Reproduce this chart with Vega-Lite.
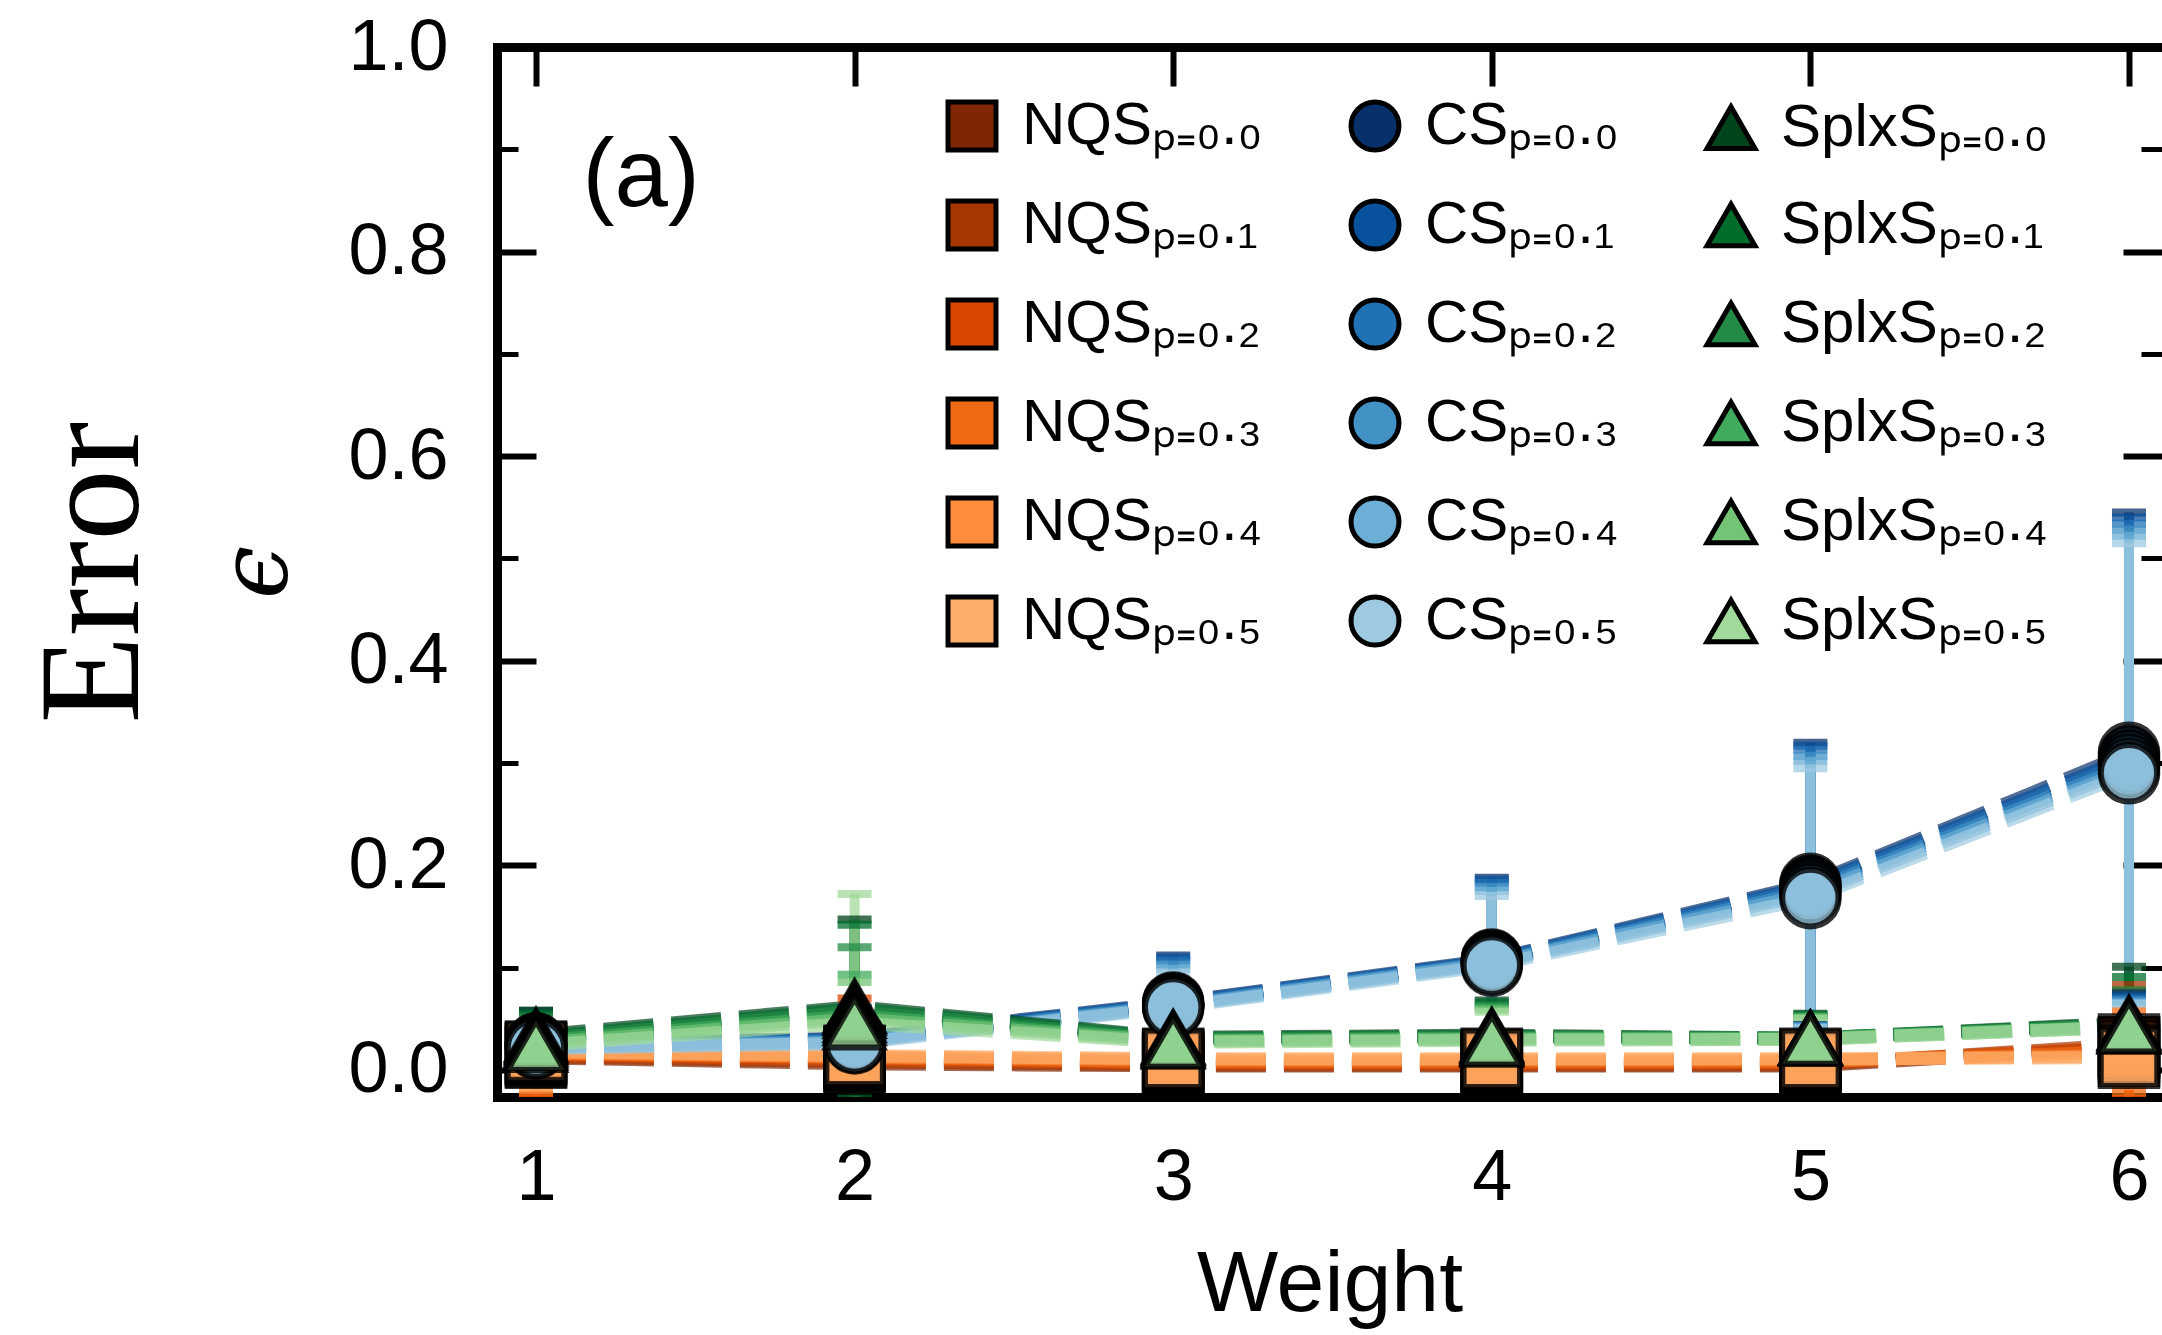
{
 "$schema": "https://vega.github.io/schema/vega-lite/v6.json",
 "width": 1665, "height": 1050,
 "autosize": {"type": "none"},
 "padding": {"left": 497, "top": 47, "right": 0, "bottom": 238},
 "background": "white",
 "config": {
  "view": {"stroke": null},
  "axis": {"grid": false, "domainColor": "black", "domainWidth": 9, "domainCap": "square", "tickColor": "black", "tickWidth": 6, "labelColor": "black", "labelFont": "Liberation Sans", "labelFontSize": 72, "titleColor": "black", "labelFlush": false, "labelOverlap": false}
 },
 "datasets": {"d": [
  {"s":"NQSₚ₌₀.₀","w":1,"v":0.012,"lo":-0.028,"hi":0.052},
  {"s":"NQSₚ₌₀.₀","w":2,"v":0.006,"lo":-0.014,"hi":0.026},
  {"s":"NQSₚ₌₀.₀","w":3,"v":0.004,"lo":-0.006,"hi":0.014},
  {"s":"NQSₚ₌₀.₀","w":4,"v":0.004,"lo":-0.006,"hi":0.014},
  {"s":"NQSₚ₌₀.₀","w":5,"v":0.004,"lo":-0.006,"hi":0.014},
  {"s":"NQSₚ₌₀.₀","w":6,"v":0.022,"lo":-0.033,"hi":0.077},
  {"s":"NQSₚ₌₀.₁","w":1,"v":0.013,"lo":-0.029,"hi":0.055},
  {"s":"NQSₚ₌₀.₁","w":2,"v":0.008,"lo":-0.014,"hi":0.030},
  {"s":"NQSₚ₌₀.₁","w":3,"v":0.005,"lo":-0.005,"hi":0.015},
  {"s":"NQSₚ₌₀.₁","w":4,"v":0.005,"lo":-0.005,"hi":0.015},
  {"s":"NQSₚ₌₀.₁","w":5,"v":0.005,"lo":-0.005,"hi":0.015},
  {"s":"NQSₚ₌₀.₁","w":6,"v":0.025,"lo":-0.033,"hi":0.083},
  {"s":"NQSₚ₌₀.₂","w":1,"v":0.015,"lo":-0.025,"hi":0.055},
  {"s":"NQSₚ₌₀.₂","w":2,"v":0.010,"lo":-0.050,"hi":0.070},
  {"s":"NQSₚ₌₀.₂","w":3,"v":0.007,"lo":-0.005,"hi":0.019},
  {"s":"NQSₚ₌₀.₂","w":4,"v":0.006,"lo":-0.006,"hi":0.018},
  {"s":"NQSₚ₌₀.₂","w":5,"v":0.007,"lo":-0.005,"hi":0.019},
  {"s":"NQSₚ₌₀.₂","w":6,"v":0.022,"lo":-0.028,"hi":0.072},
  {"s":"NQSₚ₌₀.₃","w":1,"v":0.016,"lo":-0.022,"hi":0.054},
  {"s":"NQSₚ₌₀.₃","w":2,"v":0.012,"lo":-0.018,"hi":0.042},
  {"s":"NQSₚ₌₀.₃","w":3,"v":0.008,"lo":-0.004,"hi":0.020},
  {"s":"NQSₚ₌₀.₃","w":4,"v":0.008,"lo":-0.004,"hi":0.020},
  {"s":"NQSₚ₌₀.₃","w":5,"v":0.008,"lo":-0.004,"hi":0.020},
  {"s":"NQSₚ₌₀.₃","w":6,"v":0.018,"lo":-0.022,"hi":0.058},
  {"s":"NQSₚ₌₀.₄","w":1,"v":0.017,"lo":-0.019,"hi":0.053},
  {"s":"NQSₚ₌₀.₄","w":2,"v":0.013,"lo":-0.012,"hi":0.038},
  {"s":"NQSₚ₌₀.₄","w":3,"v":0.010,"lo":-0.002,"hi":0.022},
  {"s":"NQSₚ₌₀.₄","w":4,"v":0.010,"lo":-0.002,"hi":0.022},
  {"s":"NQSₚ₌₀.₄","w":5,"v":0.010,"lo":-0.002,"hi":0.022},
  {"s":"NQSₚ₌₀.₄","w":6,"v":0.014,"lo":-0.016,"hi":0.044},
  {"s":"NQSₚ₌₀.₅","w":1,"v":0.018,"lo":-0.017,"hi":0.053},
  {"s":"NQSₚ₌₀.₅","w":2,"v":0.014,"lo":-0.006,"hi":0.034},
  {"s":"NQSₚ₌₀.₅","w":3,"v":0.011,"lo":0.001,"hi":0.021},
  {"s":"NQSₚ₌₀.₅","w":4,"v":0.011,"lo":0.001,"hi":0.021},
  {"s":"NQSₚ₌₀.₅","w":5,"v":0.011,"lo":0.001,"hi":0.021},
  {"s":"NQSₚ₌₀.₅","w":6,"v":0.012,"lo":-0.013,"hi":0.037},
  {"s":"CSₚ₌₀.₀","w":1,"v":0.026,"lo":-0.006,"hi":0.058},
  {"s":"CSₚ₌₀.₀","w":2,"v":0.031,"lo":0.001,"hi":0.061},
  {"s":"CSₚ₌₀.₀","w":3,"v":0.066,"lo":0.020,"hi":0.112},
  {"s":"CSₚ₌₀.₀","w":4,"v":0.108,"lo":0.028,"hi":0.188},
  {"s":"CSₚ₌₀.₀","w":5,"v":0.182,"lo":0.044,"hi":0.320},
  {"s":"CSₚ₌₀.₀","w":6,"v":0.310,"lo":0.075,"hi":0.545},
  {"s":"CSₚ₌₀.₁","w":1,"v":0.025,"lo":-0.006,"hi":0.056},
  {"s":"CSₚ₌₀.₁","w":2,"v":0.030,"lo":0.001,"hi":0.059},
  {"s":"CSₚ₌₀.₁","w":3,"v":0.065,"lo":0.020,"hi":0.110},
  {"s":"CSₚ₌₀.₁","w":4,"v":0.107,"lo":0.028,"hi":0.186},
  {"s":"CSₚ₌₀.₁","w":5,"v":0.180,"lo":0.043,"hi":0.317},
  {"s":"CSₚ₌₀.₁","w":6,"v":0.306,"lo":0.072,"hi":0.540},
  {"s":"CSₚ₌₀.₂","w":1,"v":0.024,"lo":-0.006,"hi":0.054},
  {"s":"CSₚ₌₀.₂","w":2,"v":0.029,"lo":0.001,"hi":0.057},
  {"s":"CSₚ₌₀.₂","w":3,"v":0.064,"lo":0.021,"hi":0.107},
  {"s":"CSₚ₌₀.₂","w":4,"v":0.106,"lo":0.029,"hi":0.183},
  {"s":"CSₚ₌₀.₂","w":5,"v":0.178,"lo":0.043,"hi":0.313},
  {"s":"CSₚ₌₀.₂","w":6,"v":0.302,"lo":0.070,"hi":0.534},
  {"s":"CSₚ₌₀.₃","w":1,"v":0.023,"lo":-0.006,"hi":0.052},
  {"s":"CSₚ₌₀.₃","w":2,"v":0.028,"lo":0.001,"hi":0.055},
  {"s":"CSₚ₌₀.₃","w":3,"v":0.063,"lo":0.023,"hi":0.103},
  {"s":"CSₚ₌₀.₃","w":4,"v":0.105,"lo":0.031,"hi":0.179},
  {"s":"CSₚ₌₀.₃","w":5,"v":0.175,"lo":0.043,"hi":0.307},
  {"s":"CSₚ₌₀.₃","w":6,"v":0.298,"lo":0.068,"hi":0.528},
  {"s":"CSₚ₌₀.₄","w":1,"v":0.022,"lo":-0.006,"hi":0.050},
  {"s":"CSₚ₌₀.₄","w":2,"v":0.027,"lo":0.001,"hi":0.053},
  {"s":"CSₚ₌₀.₄","w":3,"v":0.062,"lo":0.025,"hi":0.099},
  {"s":"CSₚ₌₀.₄","w":4,"v":0.104,"lo":0.033,"hi":0.175},
  {"s":"CSₚ₌₀.₄","w":5,"v":0.172,"lo":0.042,"hi":0.302},
  {"s":"CSₚ₌₀.₄","w":6,"v":0.294,"lo":0.066,"hi":0.522},
  {"s":"CSₚ₌₀.₅","w":1,"v":0.021,"lo":-0.006,"hi":0.048},
  {"s":"CSₚ₌₀.₅","w":2,"v":0.026,"lo":0.001,"hi":0.051},
  {"s":"CSₚ₌₀.₅","w":3,"v":0.061,"lo":0.027,"hi":0.095},
  {"s":"CSₚ₌₀.₅","w":4,"v":0.102,"lo":0.034,"hi":0.170},
  {"s":"CSₚ₌₀.₅","w":5,"v":0.168,"lo":0.041,"hi":0.295},
  {"s":"CSₚ₌₀.₅","w":6,"v":0.290,"lo":0.065,"hi":0.515},
  {"s":"SplxSₚ₌₀.₀","w":1,"v":0.034,"lo":0.010,"hi":0.058},
  {"s":"SplxSₚ₌₀.₀","w":2,"v":0.062,"lo":-0.023,"hi":0.147},
  {"s":"SplxSₚ₌₀.₀","w":3,"v":0.032,"lo":0.010,"hi":0.054},
  {"s":"SplxSₚ₌₀.₀","w":4,"v":0.034,"lo":0.000,"hi":0.068},
  {"s":"SplxSₚ₌₀.₀","w":5,"v":0.031,"lo":0.007,"hi":0.055},
  {"s":"SplxSₚ₌₀.₀","w":6,"v":0.046,"lo":-0.009,"hi":0.101},
  {"s":"SplxSₚ₌₀.₁","w":1,"v":0.032,"lo":0.009,"hi":0.055},
  {"s":"SplxSₚ₌₀.₁","w":2,"v":0.060,"lo":-0.022,"hi":0.142},
  {"s":"SplxSₚ₌₀.₁","w":3,"v":0.031,"lo":0.011,"hi":0.051},
  {"s":"SplxSₚ₌₀.₁","w":4,"v":0.033,"lo":0.000,"hi":0.066},
  {"s":"SplxSₚ₌₀.₁","w":5,"v":0.031,"lo":0.008,"hi":0.054},
  {"s":"SplxSₚ₌₀.₁","w":6,"v":0.045,"lo":-0.001,"hi":0.091},
  {"s":"SplxSₚ₌₀.₂","w":1,"v":0.030,"lo":0.008,"hi":0.052},
  {"s":"SplxSₚ₌₀.₂","w":2,"v":0.057,"lo":-0.006,"hi":0.120},
  {"s":"SplxSₚ₌₀.₂","w":3,"v":0.030,"lo":0.012,"hi":0.048},
  {"s":"SplxSₚ₌₀.₂","w":4,"v":0.032,"lo":0.001,"hi":0.063},
  {"s":"SplxSₚ₌₀.₂","w":5,"v":0.031,"lo":0.009,"hi":0.053},
  {"s":"SplxSₚ₌₀.₂","w":6,"v":0.044,"lo":0.010,"hi":0.078},
  {"s":"SplxSₚ₌₀.₃","w":1,"v":0.028,"lo":0.007,"hi":0.049},
  {"s":"SplxSₚ₌₀.₃","w":2,"v":0.053,"lo":0.013,"hi":0.093},
  {"s":"SplxSₚ₌₀.₃","w":3,"v":0.029,"lo":0.012,"hi":0.046},
  {"s":"SplxSₚ₌₀.₃","w":4,"v":0.031,"lo":0.001,"hi":0.061},
  {"s":"SplxSₚ₌₀.₃","w":5,"v":0.031,"lo":0.010,"hi":0.052},
  {"s":"SplxSₚ₌₀.₃","w":6,"v":0.043,"lo":0.015,"hi":0.071},
  {"s":"SplxSₚ₌₀.₄","w":1,"v":0.026,"lo":0.006,"hi":0.046},
  {"s":"SplxSₚ₌₀.₄","w":2,"v":0.050,"lo":0.014,"hi":0.086},
  {"s":"SplxSₚ₌₀.₄","w":3,"v":0.028,"lo":0.012,"hi":0.044},
  {"s":"SplxSₚ₌₀.₄","w":4,"v":0.030,"lo":0.001,"hi":0.059},
  {"s":"SplxSₚ₌₀.₄","w":5,"v":0.030,"lo":0.009,"hi":0.051},
  {"s":"SplxSₚ₌₀.₄","w":6,"v":0.042,"lo":0.016,"hi":0.068},
  {"s":"SplxSₚ₌₀.₅","w":1,"v":0.024,"lo":0.004,"hi":0.044},
  {"s":"SplxSₚ₌₀.₅","w":2,"v":0.046,"lo":-0.080,"hi":0.172},
  {"s":"SplxSₚ₌₀.₅","w":3,"v":0.027,"lo":0.012,"hi":0.042},
  {"s":"SplxSₚ₌₀.₅","w":4,"v":0.029,"lo":0.001,"hi":0.057},
  {"s":"SplxSₚ₌₀.₅","w":5,"v":0.030,"lo":0.010,"hi":0.050},
  {"s":"SplxSₚ₌₀.₅","w":6,"v":0.042,"lo":0.018,"hi":0.066}
 ]},
 "data": {"name": "d"},
 "resolve": {"axis": {"x": "independent", "y": "independent"}},
 "layer": [
  {
   "mark": {"type": "line", "strokeDash": [50, 18], "strokeWidth": 13, "opacity": 0.7, "strokeCap": "butt"},
   "encoding": {
    "x": {"field": "w", "type": "quantitative", "scale": {"domain": [0.8776, 6.1036], "nice": false, "zero": false},
          "axis": {"orient": "bottom", "values": [1,2,3,4,5,6], "format": "d", "tickSize": -39, "labelPadding": 84, "labelBaseline": "top", "title": "Weight", "titleFont": "Liberation Sans", "titleFontSize": 86, "titleFontWeight": "normal", "titlePadding": 29}},
    "y": {"field": "v", "type": "quantitative", "scale": {"domain": [-0.0264, 1.0], "nice": false, "zero": false},
          "axis": {"orient": "left", "values": [0, 0.2, 0.4, 0.6, 0.8, 1.0], "format": ".1f", "tickSize": -39, "labelPadding": 88, "title": "Error", "titleFont": "Liberation Serif", "titleFontSize": 143, "titleFontWeight": "normal", "titlePadding": 180}},
    "stroke": {"field": "s", "type": "nominal", "legend": null,
              "scale": {"domain": ["NQSₚ₌₀.₀","NQSₚ₌₀.₁","NQSₚ₌₀.₂","NQSₚ₌₀.₃","NQSₚ₌₀.₄","NQSₚ₌₀.₅","CSₚ₌₀.₀","CSₚ₌₀.₁","CSₚ₌₀.₂","CSₚ₌₀.₃","CSₚ₌₀.₄","CSₚ₌₀.₅","SplxSₚ₌₀.₀","SplxSₚ₌₀.₁","SplxSₚ₌₀.₂","SplxSₚ₌₀.₃","SplxSₚ₌₀.₄","SplxSₚ₌₀.₅"],
                        "range": ["#7f2704","#a63603","#d94801","#f16913","#fd8d3c","#fdae6b","#08306b","#08519c","#2171b5","#4292c6","#6baed6","#9ecae1","#00441b","#006d2c","#238b45","#41ab5d","#74c476","#a1d99b"]}},
    "detail": {"field": "s"}
   }
  },
  {
   "mark": {"type": "rule", "strokeWidth": 10, "opacity": 0.75, "clip": true},
   "encoding": {
    "x": {"field": "w", "type": "quantitative", "scale": {"domain": [0.8776, 6.1036], "nice": false, "zero": false},
          "axis": {"orient": "top", "values": [1,2,3,4,5,6], "tickSize": -39, "labels": false, "title": null}},
    "y": {"field": "lo", "type": "quantitative", "scale": {"domain": [-0.0264, 1.0], "nice": false, "zero": false},
          "axis": {"orient": "left", "values": [0.1, 0.3, 0.5, 0.7, 0.9], "tickSize": -21, "tickWidth": 5, "labels": false, "domain": false, "title": "ϵ", "titleFont": "DejaVu Serif", "titleFontStyle": "italic", "titleFontSize": 95, "titleFontWeight": "normal", "titlePadding": 188}},
    "y2": {"field": "hi"},
    "stroke": {"field": "s", "type": "nominal", "legend": null}
   }
  },
  {
   "mark": {"type": "tick", "orient": "horizontal", "size": 34, "thickness": 8, "opacity": 0.75, "clip": true},
   "encoding": {
    "x": {"field": "w", "type": "quantitative", "axis": null},
    "y": {"field": "hi", "type": "quantitative",
          "axis": {"orient": "right", "values": [0, 0.2, 0.4, 0.6, 0.8, 1.0], "tickSize": -39, "labels": false, "domain": false, "title": null}},
    "fill": {"field": "s", "type": "nominal", "legend": null,
             "scale": {"domain": ["NQSₚ₌₀.₀","NQSₚ₌₀.₁","NQSₚ₌₀.₂","NQSₚ₌₀.₃","NQSₚ₌₀.₄","NQSₚ₌₀.₅","CSₚ₌₀.₀","CSₚ₌₀.₁","CSₚ₌₀.₂","CSₚ₌₀.₃","CSₚ₌₀.₄","CSₚ₌₀.₅","SplxSₚ₌₀.₀","SplxSₚ₌₀.₁","SplxSₚ₌₀.₂","SplxSₚ₌₀.₃","SplxSₚ₌₀.₄","SplxSₚ₌₀.₅"],
                       "range": ["#7f2704","#a63603","#d94801","#f16913","#fd8d3c","#fdae6b","#08306b","#08519c","#2171b5","#4292c6","#6baed6","#9ecae1","#00441b","#006d2c","#238b45","#41ab5d","#74c476","#a1d99b"]}}
   }
  },
  {
   "mark": {"type": "tick", "orient": "horizontal", "size": 34, "thickness": 8, "opacity": 0.75, "clip": true},
   "encoding": {
    "x": {"field": "w", "type": "quantitative", "axis": null},
    "y": {"field": "lo", "type": "quantitative",
          "axis": {"orient": "right", "values": [0.1, 0.3, 0.5, 0.7, 0.9], "tickSize": -21, "tickWidth": 5, "labels": false, "domain": false, "title": null}},
    "fill": {"field": "s", "type": "nominal", "legend": null}
   }
  },
  {
   "mark": {"type": "point", "filled": true, "size": 3200, "stroke": "black", "strokeWidth": 6, "strokeOpacity": 0.8, "fillOpacity": 0.72, "opacity": 1},
   "encoding": {
    "x": {"field": "w", "type": "quantitative", "axis": null},
    "y": {"field": "v", "type": "quantitative", "axis": null},
    "color": {"field": "s", "type": "nominal",
              "scale": {"domain": ["NQSₚ₌₀.₀","CSₚ₌₀.₀","SplxSₚ₌₀.₀","NQSₚ₌₀.₁","CSₚ₌₀.₁","SplxSₚ₌₀.₁","NQSₚ₌₀.₂","CSₚ₌₀.₂","SplxSₚ₌₀.₂","NQSₚ₌₀.₃","CSₚ₌₀.₃","SplxSₚ₌₀.₃","NQSₚ₌₀.₄","CSₚ₌₀.₄","SplxSₚ₌₀.₄","NQSₚ₌₀.₅","CSₚ₌₀.₅","SplxSₚ₌₀.₅"],
                        "range": ["#7f2704","#08306b","#00441b","#a63603","#08519c","#006d2c","#d94801","#2171b5","#238b45","#f16913","#4292c6","#41ab5d","#fd8d3c","#6baed6","#74c476","#fdae6b","#9ecae1","#a1d99b"]},
              "legend": {"orient": "none", "legendX": 445, "legendY": 49, "columns": 3, "direction": "horizontal", "title": null, "padding": 0,
                         "labelFont": "Liberation Sans", "labelFontSize": 60, "labelColor": "black", "labelLimit": 600, "labelOffset": 20,
                         "symbolSize": 2300, "columnPadding": 78, "rowPadding": 31, "symbolStrokeWidth": 5, "symbolStrokeColor": "black",
                         "encode": {"symbols": {"update": {"stroke": {"value": "#1a1a1a"}, "strokeWidth": {"value": 5}, "fillOpacity": {"value": 0.75}, "strokeOpacity": {"value": 0.85}}}}}},
    "shape": {"field": "s", "type": "nominal",
              "scale": {"domain": ["NQSₚ₌₀.₀","CSₚ₌₀.₀","SplxSₚ₌₀.₀","NQSₚ₌₀.₁","CSₚ₌₀.₁","SplxSₚ₌₀.₁","NQSₚ₌₀.₂","CSₚ₌₀.₂","SplxSₚ₌₀.₂","NQSₚ₌₀.₃","CSₚ₌₀.₃","SplxSₚ₌₀.₃","NQSₚ₌₀.₄","CSₚ₌₀.₄","SplxSₚ₌₀.₄","NQSₚ₌₀.₅","CSₚ₌₀.₅","SplxSₚ₌₀.₅"],
                        "range": ["square","circle","triangle-up","square","circle","triangle-up","square","circle","triangle-up","square","circle","triangle-up","square","circle","triangle-up","square","circle","triangle-up"]}}
   }
  },
  {
   "data": {"values": [{"t": "(a)"}]},
   "mark": {"type": "text", "font": "Liberation Sans", "fontSize": 96, "align": "center", "baseline": "middle", "color": "black"},
   "encoding": {
    "text": {"field": "t"},
    "x": {"datum": 1.33, "type": "quantitative", "axis": null},
    "y": {"datum": 0.873, "type": "quantitative", "axis": null}
   }
  }
 ]
}
